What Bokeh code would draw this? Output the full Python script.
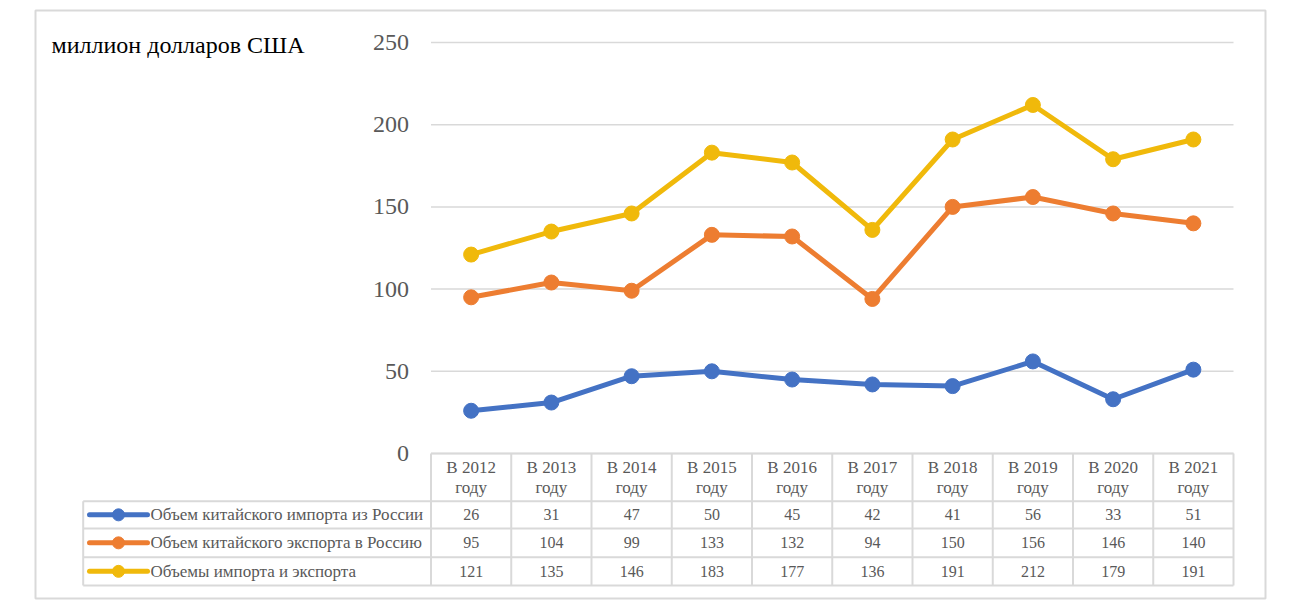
from bokeh.plotting import figure
from bokeh.models import Range1d, LinearAxis, FixedTicker
from bokeh.core.properties import value
from bokeh.embed import file_html
from bokeh.resources import INLINE

# ---------------- data ----------------
categories = ["В 2012\nгоду", "В 2013\nгоду", "В 2014\nгоду", "В 2015\nгоду", "В 2016\nгоду",
              "В 2017\nгоду", "В 2018\nгоду", "В 2019\nгоду", "В 2020\nгоду", "В 2021\nгоду"]
series_names = ["Объем китайского импорта из России",
                "Объем китайского экспорта в Россию",
                "Объемы импорта и экспорта"]
imports_from_russia = [26, 31, 47, 50, 45, 42, 41, 56, 33, 51]
exports_to_russia = [95, 104, 99, 133, 132, 94, 150, 156, 146, 140]
total_trade = [121, 135, 146, 183, 177, 136, 191, 212, 179, 191]
y_ticks = [0, 50, 100, 150, 200, 250]
unit_label = "миллион долларов США"

# ---------------- style / layout ----------------
colors = ["#4472C4", "#ED7D31", "#F0B90B"]
FONT = "'Liberation Serif', 'Times New Roman', serif"
TXT = "#595959"
GRID = "#D9D9D9"

BOX_L, BOX_R, BOX_T, BOX_B = 35, 1265, 10, 598      # outer chart border (page px)
PLOT_L, PLOT_R = 430.5, 1233                        # plot area / table columns
Y_TOP_PX, Y_ZERO_PX = 42, 453                       # pixel rows of top tick and zero
LEG_L = 82.7
ROW_LINES = [500.7, 528, 556.7, 585]
n = len(categories)
col_w = (PLOT_R - PLOT_L) / n
ppu = (Y_ZERO_PX - Y_TOP_PX) / y_ticks[-1]


def px_to_x(px):
    return (px - PLOT_L) / col_w - 0.5


def px_to_y(px):
    return (Y_ZERO_PX - px) / ppu


W, H = 1280, 606
p = figure(width=W, height=H, output_backend="svg", toolbar_location=None, title=None,
           x_range=Range1d(px_to_x(BOX_L), px_to_x(BOX_R)),
           y_range=Range1d(px_to_y(BOX_B), px_to_y(BOX_T)),
           x_axis_type=None, y_axis_type=None,
           min_border_left=BOX_L, min_border_top=BOX_T,
           min_border_right=W - BOX_R, min_border_bottom=H - BOX_B)
p.extra_x_ranges = {"px": Range1d(BOX_L, BOX_R)}
p.extra_y_ranges = {"px": Range1d(BOX_B, BOX_T)}
p.outline_line_color = GRID
p.outline_line_width = 2
p.background_fill_color = "white"
p.border_fill_color = "white"

# y axis drawn at the left edge of the plot area
yaxis = LinearAxis(fixed_location=-0.5, ticker=FixedTicker(ticks=y_ticks),
                   axis_line_color=None, major_tick_line_color=None, minor_tick_line_color=None,
                   major_tick_in=0, major_tick_out=0, major_label_standoff=22,
                   major_label_text_font=FONT, major_label_text_font_size="24px",
                   major_label_text_color=TXT)
p.add_layout(yaxis, "left")

# horizontal gridlines
p.segment(x0=[-0.5] * len(y_ticks), x1=[n - 0.5] * len(y_ticks), y0=y_ticks, y1=y_ticks,
          line_color=GRID, line_width=1.5)

# series
xs = list(range(n))
series = [imports_from_russia, exports_to_russia, total_trade]
for vals, c in zip(series, colors):
    p.line(xs, vals, line_color=c, line_width=5, line_join="round")
    p.scatter(xs, vals, size=15, fill_color=c, line_color=c)

# unit label
p.text(x=[51], y=[44], text=[unit_label], x_range_name="px", y_range_name="px",
       text_font=value(FONT), text_font_size="24px", text_color="#000000",
       text_align="left", text_baseline="middle")

# ----- data table -----
p.segment(x0=[PLOT_L], x1=[PLOT_R], y0=[Y_ZERO_PX], y1=[Y_ZERO_PX],
          x_range_name="px", y_range_name="px", line_color=GRID, line_width=2)
p.segment(x0=[LEG_L] * len(ROW_LINES), x1=[PLOT_R] * len(ROW_LINES), y0=ROW_LINES, y1=ROW_LINES,
          x_range_name="px", y_range_name="px", line_color=GRID, line_width=2)
bounds = [k - 0.5 for k in range(n + 1)]
p.segment(x0=bounds, x1=bounds, y0=[Y_ZERO_PX] * len(bounds), y1=[ROW_LINES[-1]] * len(bounds),
          y_range_name="px", line_color=GRID, line_width=2)
p.segment(x0=[LEG_L], x1=[LEG_L], y0=[ROW_LINES[0]], y1=[ROW_LINES[-1]],
          x_range_name="px", y_range_name="px", line_color=GRID, line_width=2)

# header
p.text(x=xs, y=[(Y_ZERO_PX + ROW_LINES[0]) / 2] * n, text=categories, y_range_name="px",
       text_font=value(FONT), text_font_size="17px", text_color=TXT,
       text_align="center", text_baseline="middle", text_line_height=1.05)

# rows
for i, (vals, c, name) in enumerate(zip(series, colors, series_names)):
    yc = (ROW_LINES[i] + ROW_LINES[i + 1]) / 2
    p.text(x=xs, y=[yc] * n, text=[str(v) for v in vals], y_range_name="px",
           text_font=value(FONT), text_font_size="16px", text_color=TXT,
           text_align="center", text_baseline="middle")
    p.segment(x0=[89], x1=[147], y0=[yc], y1=[yc], x_range_name="px", y_range_name="px",
              line_color=c, line_width=5, line_cap="round")
    p.scatter(x=[118], y=[yc], size=12, fill_color=c, line_color=c,
              x_range_name="px", y_range_name="px")
    p.text(x=[150], y=[yc], text=[name], x_range_name="px", y_range_name="px",
           text_font=value(FONT), text_font_size="17px", text_color=TXT,
           text_align="left", text_baseline="middle")

open("out.html", "w").write(file_html(p, INLINE))
